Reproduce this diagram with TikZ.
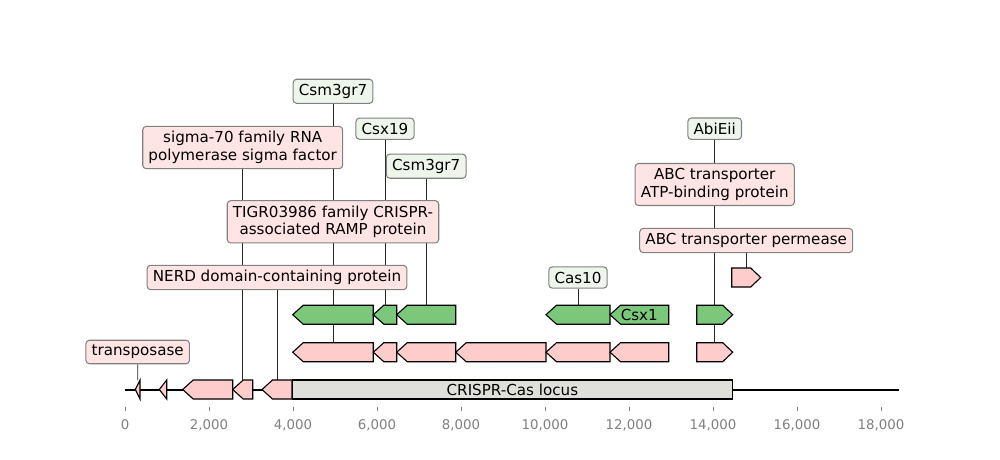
\documentclass[tikz,border=0pt]{standalone}
\usepackage{fontspec}
\setmainfont{DejaVu Sans}
\usetikzlibrary{backgrounds}
\definecolor{pinkarrow}{HTML}{FFCCCC}
\definecolor{greenarrow}{HTML}{7BC87B}
\definecolor{pinkbox}{HTML}{FFE4E4}
\definecolor{greenbox}{HTML}{EEF6EC}
\definecolor{locusgray}{HTML}{E0E0DA}
\definecolor{boxedge}{HTML}{808080}
\definecolor{axisgray}{HTML}{808080}
\newcommand\geneL[5]{% name, xtip, xend, ycenter, style
  \pgfmathsetmacro\hl{min(10.5,#3-#2)}
  \draw[#5] (#3,{#4-9.5}) -- ({#2+\hl},{#4-9.5}) -- (#2,#4) -- ({#2+\hl},{#4+9.5}) -- (#3,{#4+9.5}) -- cycle;
  \coordinate (#1) at ({(#2+#3)/2},{#4-9.5});
}
\newcommand\geneR[5]{% name, xstart, xtip, ycenter, style
  \pgfmathsetmacro\hl{min(10,#3-#2)}
  \draw[#5] (#2,{#4-9.5}) -- ({#3-\hl},{#4-9.5}) -- (#3,#4) -- ({#3-\hl},{#4+9.5}) -- (#2,{#4+9.5}) -- cycle;
  \coordinate (#1) at ({(#2+#3)/2},{#4-9.5});
}
\begin{document}
\begin{tikzpicture}[x=0.72pt,y=-0.72pt,
  pinkgene/.style={draw=black,line width=0.8pt,fill=pinkarrow,line join=miter},
  greengene/.style={draw=black,line width=0.8pt,fill=greenarrow,line join=miter},
  labbox/.style={draw=boxedge,line width=0.75pt,rounded corners=2.5pt,inner xsep=4.1pt,inner ysep=3.5pt,align=center,font=\fontsize{10.9}{12.9}\selectfont},
  pinklab/.style={labbox,fill=pinkbox},
  greenlab/.style={labbox,fill=greenbox},
  lead/.style={draw=black!85,line width=0.55pt},
  ticklab/.style={text=axisgray,font=\fontsize{9.6}{11}\selectfont,inner sep=0pt}]
\useasboundingbox (0,0) rectangle (1000,459);

% backbone
\coordinate (bbL) at (125,390);
\coordinate (bbR) at (899,390);
\draw[line width=1.9pt] (bbL) -- (bbR);

% axis ticks
\foreach \v/\t in {0/0,2/{2,000},4/{4,000},6/{6,000},8/{8,000},10/{10,000},12/{12,000},14/{14,000},16/{16,000},18/{18,000}}{
  \draw[axisgray,line width=0.6pt] ({125+42*\v},406.5) -- ({125+42*\v},411);
  \node[ticklab] (tick\v) at ({125+42*\v},425) {\t};
}

% bottom row
\geneL{aTrans}{135.3}{140}{389.5}{pinkgene}
\geneL{aB2}{159.3}{166.7}{389.5}{pinkgene}
\geneL{aB3}{182.7}{232.7}{389.5}{pinkgene}
\geneL{aSigma}{232.7}{252.7}{389.5}{pinkgene}
\geneL{aNerd}{262}{292}{389.5}{pinkgene}
\node[draw=black,line width=0.8pt,fill=locusgray,minimum width=316.6pt,minimum height=13.7pt,inner sep=0pt,anchor=west,font=\fontsize{10.9}{12.9}\selectfont] (locus) at (292,389.5) {CRISPR-Cas locus};

% middle pink row
\geneL{aTigr}{292.7}{373.3}{352.2}{pinkgene}
\geneL{aM2}{373.3}{396.7}{352.2}{pinkgene}
\geneL{aM3}{396.7}{455.7}{352.2}{pinkgene}
\geneL{aM4}{455.7}{546}{352.2}{pinkgene}
\geneL{aM5}{546}{610}{352.2}{pinkgene}
\geneL{aM6}{610}{668.7}{352.2}{pinkgene}
\geneR{aAbcAtp}{696.7}{732.7}{352.2}{pinkgene}

% green row
\geneL{aCsm1}{292.7}{373.3}{314.7}{greengene}
\geneL{aCsx19}{373.3}{396.7}{314.7}{greengene}
\geneL{aCsm2}{396.7}{455.7}{314.7}{greengene}
\geneL{aCas10}{546}{610}{314.7}{greengene}
\geneL{aCsx1}{610}{668.7}{314.7}{greengene}
\node[font=\fontsize{10.9}{12.9}\selectfont,inner sep=0pt] (csx1txt) at (639.3,314.7) {Csx1};
\geneR{aAbi}{696.7}{732.7}{314.7}{greengene}

% top row
\geneR{aPerm}{731.7}{760.7}{277.5}{pinkgene}

% labels
\node[pinklab] (lTrans) at (137.7,352) {transposase};
\node[pinklab] (lNerd) at (277,277.5) {NERD domain-containing protein};
\node[pinklab] (lSigma) at (242.7,147.5) {sigma-70 family RNA\\polymerase sigma factor};
\node[pinklab] (lTigr) at (333,221.8) {TIGR03986 family CRISPR-\\associated RAMP protein};
\node[greenlab] (lCsm1) at (333,91.3) {Csm3gr7};
\node[greenlab] (lCsx19) at (385,128.7) {Csx19};
\node[greenlab] (lCsm2) at (426.2,166.2) {Csm3gr7};
\node[greenlab] (lCas10) at (578,277.5) {Cas10};
\node[greenlab] (lAbi) at (714.7,128.7) {AbiEii};
\node[pinklab] (lAbcAtp) at (714.7,184.5) {ABC transporter\\ATP-binding protein};
\node[pinklab] (lPerm) at (746.2,240.5) {ABC transporter permease};

% leader lines
\begin{pgfonlayer}{background}
\draw[lead] (lTrans.south) -- (aTrans);
\draw[lead] (lNerd.south) -- (aNerd);
\draw[lead] (lSigma.south) -- (aSigma);
\draw[lead] (lTigr.south) -- (aTigr);
\draw[lead] (lCsm1.south) -- (aCsm1);
\draw[lead] (lCsx19.south) -- (aCsx19);
\draw[lead] (lCsm2.south) -- (aCsm2);
\draw[lead] (lCas10.south) -- (aCas10);
\draw[lead] (lAbi.south) -- (aAbi);
\draw[lead] (lAbcAtp.south) -- (aAbcAtp);
\draw[lead] (lPerm.south) -- (aPerm);
\end{pgfonlayer}
\end{tikzpicture}
\end{document}
